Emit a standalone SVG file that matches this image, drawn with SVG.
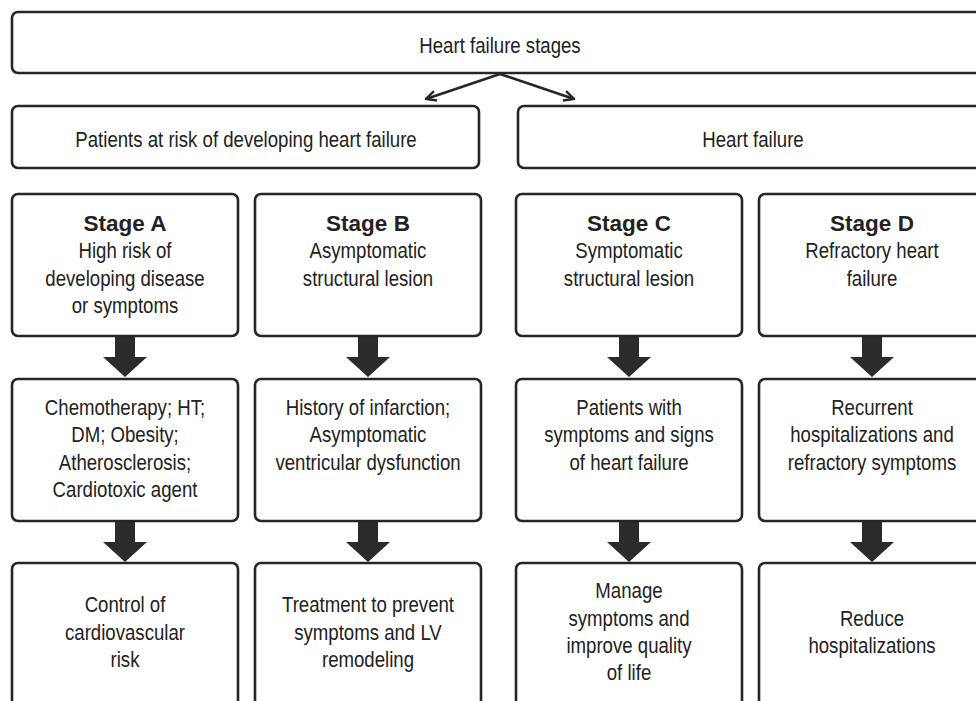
<svg xmlns="http://www.w3.org/2000/svg" width="976" height="701" viewBox="0 0 976 701">
<defs>
<style>
.box{fill:#fff;stroke:#262626;stroke-width:2.6}
.t{font-family:"Liberation Sans",Arial,sans-serif;font-size:23px;fill:#222;text-anchor:middle}
.b{font-family:"Liberation Sans",Arial,sans-serif;font-size:22.5px;font-weight:bold;fill:#222;text-anchor:middle}
.blk{fill:#2b2b2b}
.ln{stroke:#262626;stroke-width:2.6;fill:none}
</style>
<marker id="chev" viewBox="0 0 12 12" refX="11" refY="6" markerWidth="12" markerHeight="12" markerUnits="userSpaceOnUse" orient="auto">
<path d="M1,1 L11,6 L1,11" fill="none" stroke="#262626" stroke-width="2.4"/>
</marker>
</defs>
<rect width="976" height="701" fill="#fff"/>

<g id="connectors">
<line class="ln" x1="500" y1="74" x2="426" y2="99" marker-end="url(#chev)"/>
<line class="ln" x1="500" y1="74" x2="574" y2="99" marker-end="url(#chev)"/>
<path class="blk" d="M115,336 H135 V357 H147 L125,377 L103,357 H115 Z"/>
<path class="blk" d="M358,336 H378 V357 H390 L368,377 L346,357 H358 Z"/>
<path class="blk" d="M619,336 H639 V357 H651 L629,377 L607,357 H619 Z"/>
<path class="blk" d="M862,336 H882 V357 H894 L872,377 L850,357 H862 Z"/>
<path class="blk" d="M115,521 H135 V542 H147 L125,562 L103,542 H115 Z"/>
<path class="blk" d="M358,521 H378 V542 H390 L368,562 L346,542 H358 Z"/>
<path class="blk" d="M619,521 H639 V542 H651 L629,562 L607,542 H619 Z"/>
<path class="blk" d="M862,521 H882 V542 H894 L872,562 L850,542 H862 Z"/>
</g>

<g id="top">
<rect class="box" x="12" y="12" width="976" height="61" rx="6"/>
<text class="t" transform="translate(500 0) scale(0.81 1)" x="0" y="53">Heart failure stages</text>
</g>

<g id="at-risk">
<rect class="box" x="12" y="106" width="467" height="62" rx="6"/>
<text class="t" transform="translate(246 0) scale(0.81 1)" x="0" y="147.5">Patients at risk of developing heart failure</text>
</g>

<g id="hf">
<rect class="box" x="518" y="106" width="470" height="62" rx="6"/>
<text class="t" transform="translate(753 0) scale(0.81 1)" x="0" y="147.5">Heart failure</text>
</g>

<g id="stageA">
<rect class="box" x="12" y="194" width="226" height="142" rx="6"/>
<text class="b" x="125" y="231">Stage A</text>
<text class="t" transform="translate(125 0) scale(0.81 1)"><tspan x="0" y="258.5">High risk of</tspan><tspan x="0" y="286">developing disease</tspan><tspan x="0" y="313.5">or symptoms</tspan></text>
</g>

<g id="stageB">
<rect class="box" x="255" y="194" width="226" height="142" rx="6"/>
<text class="b" x="368" y="231">Stage B</text>
<text class="t" transform="translate(368 0) scale(0.81 1)"><tspan x="0" y="258.5">Asymptomatic</tspan><tspan x="0" y="286">structural lesion</tspan></text>
</g>

<g id="stageC">
<rect class="box" x="516" y="194" width="226" height="142" rx="6"/>
<text class="b" x="629" y="231">Stage C</text>
<text class="t" transform="translate(629 0) scale(0.81 1)"><tspan x="0" y="258.5">Symptomatic</tspan><tspan x="0" y="286">structural lesion</tspan></text>
</g>

<g id="stageD">
<rect class="box" x="759" y="194" width="226" height="142" rx="6"/>
<text class="b" x="872" y="231">Stage D</text>
<text class="t" transform="translate(872 0) scale(0.81 1)"><tspan x="0" y="258.5">Refractory heart</tspan><tspan x="0" y="286">failure</tspan></text>
</g>

<g id="causesA">
<rect class="box" x="12" y="379" width="226" height="142" rx="6"/>
<text class="t" transform="translate(125 0) scale(0.81 1)"><tspan x="0" y="415">Chemotherapy; HT;</tspan><tspan x="0" y="442.5">DM; Obesity;</tspan><tspan x="0" y="470">Atherosclerosis;</tspan><tspan x="0" y="497">Cardiotoxic agent</tspan></text>
</g>

<g id="causesB">
<rect class="box" x="255" y="379" width="226" height="142" rx="6"/>
<text class="t" transform="translate(368 0) scale(0.81 1)"><tspan x="0" y="415">History of infarction;</tspan><tspan x="0" y="442.5">Asymptomatic</tspan><tspan x="0" y="470">ventricular dysfunction</tspan></text>
</g>

<g id="causesC">
<rect class="box" x="516" y="379" width="226" height="142" rx="6"/>
<text class="t" transform="translate(629 0) scale(0.81 1)"><tspan x="0" y="415">Patients with</tspan><tspan x="0" y="442.5">symptoms and signs</tspan><tspan x="0" y="470">of heart failure</tspan></text>
</g>

<g id="causesD">
<rect class="box" x="759" y="379" width="226" height="142" rx="6"/>
<text class="t" transform="translate(872 0) scale(0.81 1)"><tspan x="0" y="415">Recurrent</tspan><tspan x="0" y="442.5">hospitalizations and</tspan><tspan x="0" y="470">refractory symptoms</tspan></text>
</g>

<g id="goalA">
<rect class="box" x="12" y="563" width="226" height="160" rx="6"/>
<text class="t" transform="translate(125 0) scale(0.81 1)"><tspan x="0" y="612.5">Control of</tspan><tspan x="0" y="640">cardiovascular</tspan><tspan x="0" y="667.5">risk</tspan></text>
</g>

<g id="goalB">
<rect class="box" x="255" y="563" width="226" height="160" rx="6"/>
<text class="t" transform="translate(368 0) scale(0.81 1)"><tspan x="0" y="612.5">Treatment to prevent</tspan><tspan x="0" y="640">symptoms and LV</tspan><tspan x="0" y="667.5">remodeling</tspan></text>
</g>

<g id="goalC">
<rect class="box" x="516" y="563" width="226" height="160" rx="6"/>
<text class="t" transform="translate(629 0) scale(0.81 1)"><tspan x="0" y="598.5">Manage</tspan><tspan x="0" y="626">symptoms and</tspan><tspan x="0" y="653">improve quality</tspan><tspan x="0" y="680">of life</tspan></text>
</g>

<g id="goalD">
<rect class="box" x="759" y="563" width="226" height="160" rx="6"/>
<text class="t" transform="translate(872 0) scale(0.81 1)"><tspan x="0" y="626.5">Reduce</tspan><tspan x="0" y="653.5">hospitalizations</tspan></text>
</g>
</svg>
